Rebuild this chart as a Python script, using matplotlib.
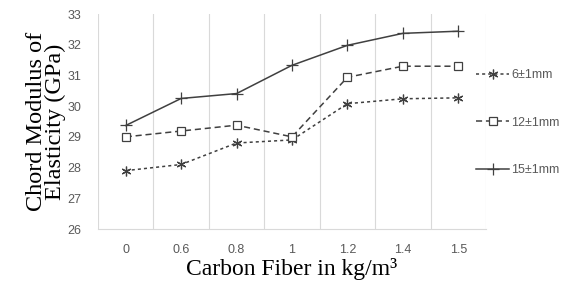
import matplotlib
matplotlib.use("Agg")
import matplotlib.pyplot as plt
import numpy as np

categories = ["0", "0.6", "0.8", "1", "1.2", "1.4", "1.5"]
s6 = [27.9, 28.1, 28.8, 28.9, 30.08, 30.24, 30.27]
s12 = [29.0, 29.19, 29.38, 29.0, 30.94, 31.3, 31.3]
s15 = [29.37, 30.25, 30.41, 31.33, 31.98, 32.37, 32.44]
labels = ["6\u00b11mm", "12\u00b11mm", "15\u00b11mm"]
yticks = [26, 27, 28, 29, 30, 31, 32, 33]

fig = plt.figure(figsize=(5.78, 2.82), dpi=100)
ax = fig.add_axes([98/578, 1-229/282, (486-98)/578, (229-14)/282])
x = np.arange(len(categories))
lc = "#404040"
ax.plot(x, s6, linestyle=(0, (2, 2)), color=lc, lw=1.1, marker=(6, 2, 0), ms=7, mew=0.9, label=labels[0])
ax.plot(x, s12, linestyle=(0, (4, 2.5)), color=lc, lw=1.1, marker="s", ms=5.5, mfc="white", mec=lc, mew=0.9, label=labels[1])
ax.plot(x, s15, linestyle="-", color=lc, lw=1.1, marker="+", ms=8, mew=0.9, label=labels[2])

ax.set_xlim(-0.5, len(categories) - 0.5)
ax.set_ylim(26, 33)
ax.set_yticks(yticks)
ax.set_xticks(x)
ax.set_xticklabels(categories)
ax.set_xticks(np.arange(len(categories) + 1) - 0.5, minor=True)
ax.grid(which="minor", axis="x", color="#d9d9d9", lw=0.8)
ax.tick_params(which="both", length=0)
ax.tick_params(axis="both", labelcolor="#595959", labelsize=9)
ax.tick_params(axis="x", pad=11)
ax.tick_params(axis="y", pad=12)
for t in ax.get_xticklabels() + ax.get_yticklabels():
    t.set_family("Liberation Sans")
for s in ["top", "right", "left"]:
    ax.spines[s].set_visible(False)
ax.spines["bottom"].set_color("#d9d9d9")

ax.set_ylabel("Chord Modulus of\nElasticity (GPa)", family="Liberation Serif", fontsize=17.5, linespacing=0.85, labelpad=1)
ax.set_xlabel("Carbon Fiber in kg/m\u00b3", family="Liberation Serif", fontsize=17, labelpad=1)

leg = fig.legend(loc="upper left", bbox_to_anchor=(470/578, 1-63/282), frameon=False,
                 prop={"family": "Liberation Sans", "size": 9}, labelcolor="#595959",
                 handlelength=2.6, labelspacing=2.85, handletextpad=0.2, borderpad=0)
fig.savefig("out.png", dpi=100)
